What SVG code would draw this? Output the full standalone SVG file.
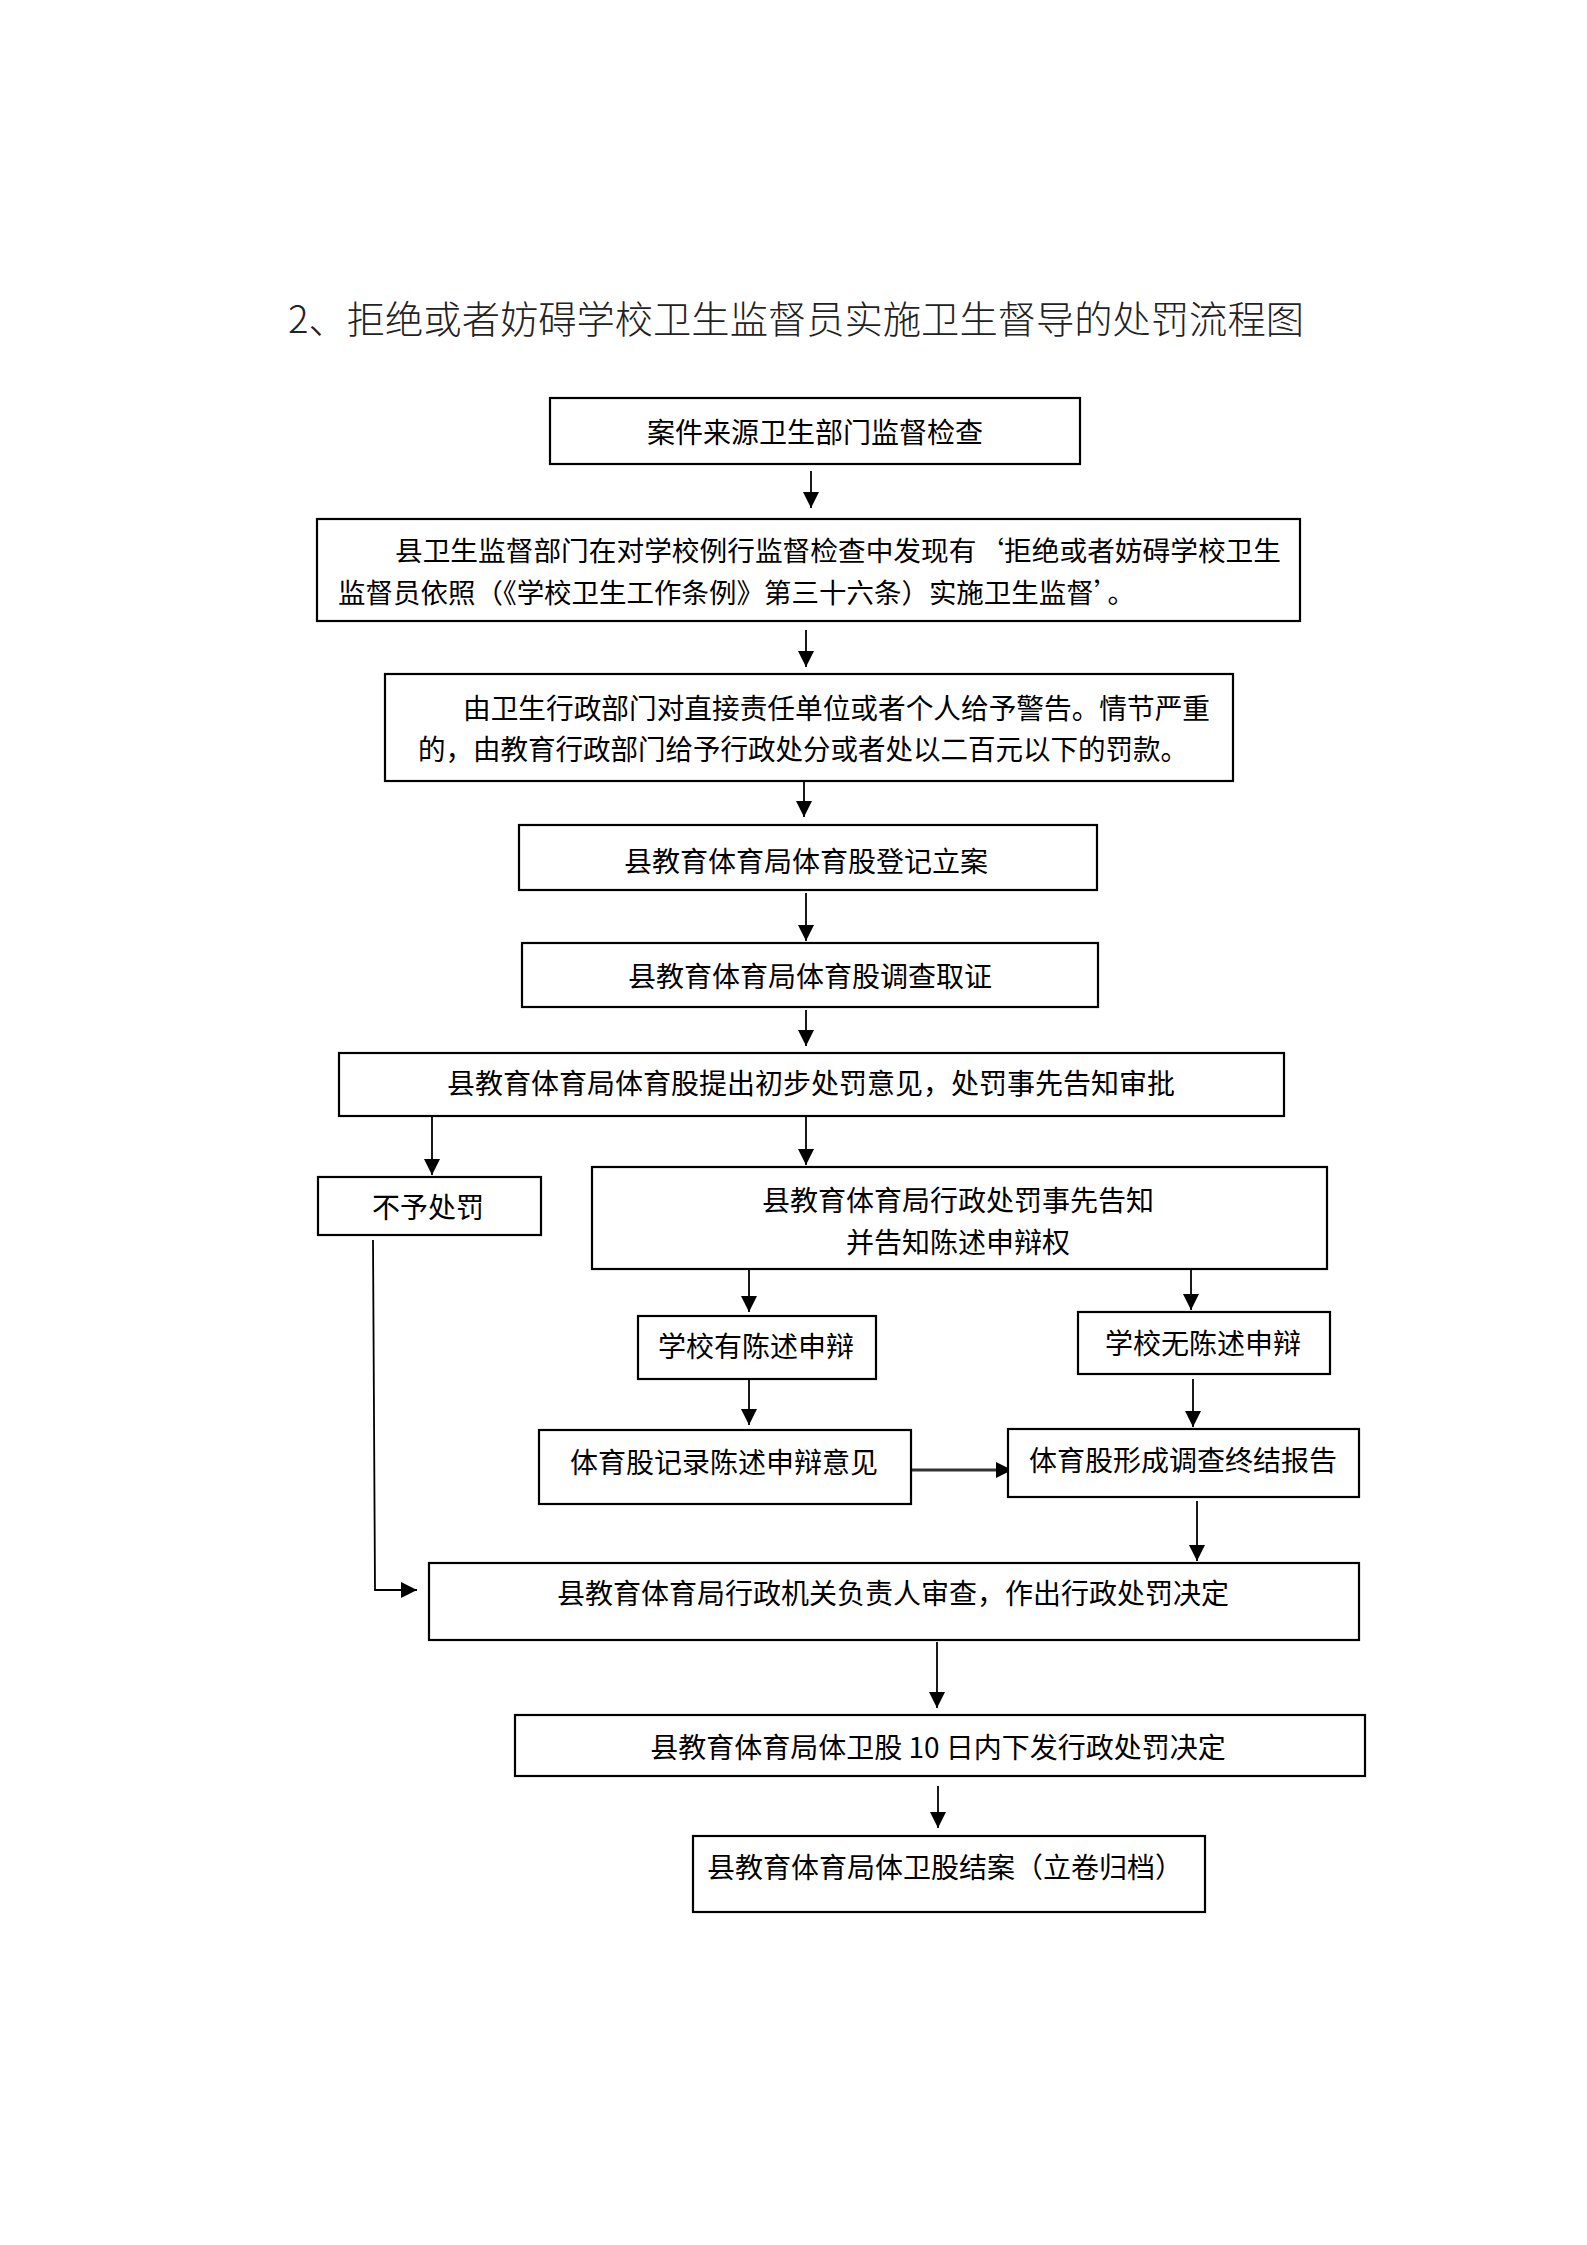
<svg xmlns="http://www.w3.org/2000/svg" width="1587" height="2245" viewBox="0 0 1587 2245">
<style>
.box{fill:#fff;stroke:#000;stroke-width:2.2}
.t{font-family:"Noto Sans CJK SC","Liberation Serif",sans-serif;font-size:28px;fill:#000;dominant-baseline:central}
.c{text-anchor:middle}
.title{font-family:"Noto Sans CJK SC","Liberation Serif",sans-serif;font-size:38px;font-weight:300;fill:#222;dominant-baseline:central}
.ln{fill:none;stroke:#000;stroke-width:1.8;marker-end:url(#ah)}
</style>
<defs>
<marker id="ah" viewBox="0 0 16 16" refX="16" refY="8" markerWidth="16" markerHeight="16" orient="auto" markerUnits="userSpaceOnUse">
<path d="M0,0 L16,8 L0,16 z" fill="#000"/>
</marker>
</defs>
<rect width="1587" height="2245" fill="#fff"/>
<text class="title" x="288" y="316" textLength="1016" lengthAdjust="spacingAndGlyphs">2、拒绝或者妨碍学校卫生监督员实施卫生督导的处罚流程图</text>

<g id="connectors">
<path class="ln" d="M811,471 L811,508"/>
<path class="ln" d="M806,630 L806,667"/>
<path class="ln" d="M804,782 L804,817"/>
<path class="ln" d="M806,893 L806,941"/>
<path class="ln" d="M806,1010 L806,1046"/>
<path class="ln" d="M432,1115 L432,1175"/>
<path class="ln" d="M806,1115 L806,1165"/>
<path class="ln" d="M749,1269 L749,1312"/>
<path class="ln" d="M1191,1269 L1191,1310"/>
<path class="ln" d="M749,1377 L749,1425"/>
<path class="ln" d="M1193,1379 L1193,1427"/>
<path class="ln" d="M911,1470 L1012,1470" style="stroke-width:3;stroke:#333"/>
<path class="ln" d="M1197,1501 L1197,1561"/>
<path class="ln" d="M373,1240 L375,1590 L417,1590"/>
<path class="ln" d="M937,1642 L937,1708"/>
<path class="ln" d="M938,1786 L938,1828"/>
</g>

<g id="n1"><rect class="box" x="550" y="398" width="530" height="66"/><text class="t c" x="815" y="431">案件来源卫生部门监督检查</text></g>
<g id="n2"><rect class="box" x="317" y="519" width="983" height="102"/>
<text class="t" style="font-size:27px" x="395" y="549.5" textLength="886" lengthAdjust="spacingAndGlyphs">县卫生监督部门在对学校例行监督检查中发现有‘拒绝或者妨碍学校卫生</text>
<text class="t" style="font-size:27px" x="338" y="591" textLength="797" lengthAdjust="spacingAndGlyphs">监督员依照（《学校卫生工作条例》第三十六条）实施卫生监督’。</text></g>
<g id="n3"><rect class="box" x="385" y="674" width="848" height="107"/>
<text class="t" x="463" y="707" textLength="747" lengthAdjust="spacingAndGlyphs">由卫生行政部门对直接责任单位或者个人给予警告。情节严重</text>
<text class="t" x="418" y="748" textLength="770" lengthAdjust="spacingAndGlyphs">的，由教育行政部门给予行政处分或者处以二百元以下的罚款。</text></g>
<g id="n4"><rect class="box" x="519" y="825" width="578" height="65"/><text class="t c" x="806" y="860">县教育体育局体育股登记立案</text></g>
<g id="n5"><rect class="box" x="522" y="943" width="576" height="64"/><text class="t c" x="810" y="975">县教育体育局体育股调查取证</text></g>
<g id="n6"><rect class="box" x="339" y="1053" width="945" height="63"/><text class="t c" x="811" y="1082">县教育体育局体育股提出初步处罚意见，处罚事先告知审批</text></g>
<g id="n7"><rect class="box" x="318" y="1177" width="223" height="58"/><text class="t c" x="428" y="1206">不予处罚</text></g>
<g id="n8"><rect class="box" x="592" y="1167" width="735" height="102"/>
<text class="t c" x="958" y="1199">县教育体育局行政处罚事先告知</text>
<text class="t c" x="958" y="1241">并告知陈述申辩权</text></g>
<g id="n9"><rect class="box" x="638" y="1316" width="238" height="63"/><text class="t c" x="756" y="1345">学校有陈述申辩</text></g>
<g id="n10"><rect class="box" x="1078" y="1312" width="252" height="62"/><text class="t c" x="1203" y="1342">学校无陈述申辩</text></g>
<g id="n11"><rect class="box" x="539" y="1430" width="372" height="74"/><text class="t c" x="724" y="1461">体育股记录陈述申辩意见</text></g>
<g id="n12"><rect class="box" x="1008" y="1429" width="351" height="68"/><text class="t c" x="1183" y="1459">体育股形成调查终结报告</text></g>
<g id="n13"><rect class="box" x="429" y="1563" width="930" height="77"/><text class="t c" x="893" y="1592">县教育体育局行政机关负责人审查，作出行政处罚决定</text></g>
<g id="n14"><rect class="box" x="515" y="1715" width="850" height="61"/><text class="t c" x="938" y="1746">县教育体育局体卫股 10 日内下发行政处罚决定</text></g>
<g id="n15"><rect class="box" x="693" y="1836" width="512" height="76"/><text class="t c" x="945" y="1866">县教育体育局体卫股结案（立卷归档）</text></g>
</svg>
